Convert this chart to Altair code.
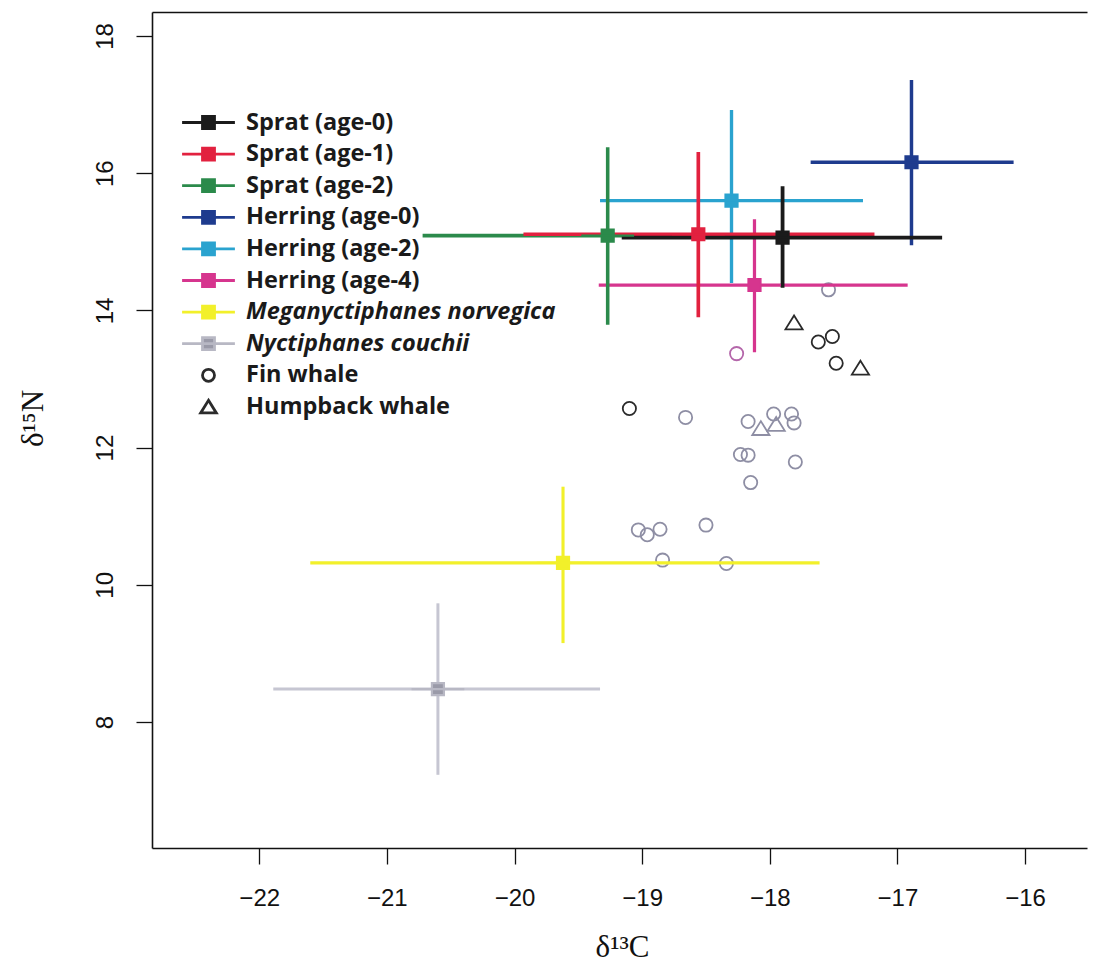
import altair as alt
import pandas as pd

# ---------------- data ----------------
groups = [
    "Sprat (age-0)", "Sprat (age-1)", "Sprat (age-2)",
    "Herring (age-0)", "Herring (age-2)", "Herring (age-4)",
    "Meganyctiphanes norvegica", "Nyctiphanes couchii",
    "Fin whale", "Humpback whale",
]
prey_groups = groups[:8]

prey_c13_mean = [-17.90, -18.56, -19.27, -16.89, -18.30, -18.12, -19.62, -20.60]
prey_c13_lo = [-19.16, -19.93, -20.72, -17.68, -19.33, -19.34, -21.60, -21.89]
prey_c13_hi = [-16.65, -17.18, -17.83, -16.09, -17.27, -16.92, -17.61, -19.33]
prey_n15_mean = [15.06, 15.11, 15.09, 16.16, 15.60, 14.37, 10.32, 8.48]
prey_n15_lo = [14.33, 13.90, 13.79, 14.95, 14.40, 13.39, 9.15, 7.23]
prey_n15_hi = [15.81, 16.31, 16.38, 17.36, 16.92, 15.33, 11.43, 9.73]

# drawing order of the error crosses (first drawn = bottom)
draw_order = [
    "Nyctiphanes couchii", "Meganyctiphanes norvegica", "Herring (age-0)",
    "Herring (age-2)", "Herring (age-4)", "Sprat (age-2)", "Sprat (age-1)",
    "Sprat (age-0)",
]

whale_species = ["Fin whale"] * 21 + ["Humpback whale"] * 4
whale_c13 = [-18.26, -17.62, -17.51, -17.48, -19.10, -18.66, -18.17, -17.97,
             -17.83, -17.81, -18.23, -18.17, -17.80, -18.15, -19.03, -18.96,
             -18.86, -18.50, -18.84, -18.34, -17.54,
             -17.81, -17.29, -18.07, -17.95]
whale_n15 = [13.37, 13.54, 13.62, 13.23, 12.57, 12.44, 12.38, 12.49,
             12.49, 12.36, 11.90, 11.89, 11.79, 11.49, 10.80, 10.73,
             10.81, 10.87, 10.36, 10.31, 14.30,
             13.82, 13.16, 12.28, 12.34]
whale_tone = ["purple", "dark", "dark", "dark", "dark", "grey", "grey", "grey",
              "grey", "grey", "grey", "grey", "grey", "grey", "grey", "grey",
              "grey", "grey", "grey", "grey", "grey",
              "dark", "dark", "grey", "grey"]

x_ticks = [-22, -21, -20, -19, -18, -17, -16]
y_ticks = [8, 10, 12, 14, 16, 18]

# ---------------- styles ----------------
line_colors = ["#1b1b1b", "#e2213f", "#2b8a4b", "#1e3b8e", "#2aa3cf", "#d6358e", "#f2f02a", "#c6c6d2"]
line_widths = [3.8, 3, 3, 2.6, 3, 3, 4, 2.5]
group_fill = line_colors[:7] + ["#9a9aa8", "white", "white"]
group_stroke = line_colors[:7] + ["#b8b8c4", "#2b2b2b", "#2b2b2b"]
tones = ["dark", "grey", "purple"]
tone_colors = ["#2a2a2a", "#8e8ea4", "#b466aa"]

SQ = "M-2.2,0H2.2M-0.5,-0.5H0.5V0.5H-0.5Z"
CIRCLE = "M0.5,0A0.5,0.5,0,1,1,-0.5,0A0.5,0.5,0,1,1,0.5,0Z"
TRIANGLE = "M0,-0.55L0.65,0.5L-0.65,0.5Z"
group_shapes = [SQ] * 8 + [CIRCLE, TRIANGLE]

# ---------------- tables ----------------
prey_df = pd.DataFrame({
    "group": prey_groups, "c13": prey_c13_mean, "n15": prey_n15_mean,
    "c13_lo": prey_c13_lo, "c13_hi": prey_c13_hi,
    "n15_lo": prey_n15_lo, "n15_hi": prey_n15_hi,
})
rows = []
for g in draw_order:
    r = prey_df[prey_df.group == g].iloc[0]
    rows.append({"group": g, "x0": r.c13_lo, "x1": r.c13_hi, "y0": r.n15, "y1": r.n15})
    rows.append({"group": g, "x0": r.c13, "x1": r.c13, "y0": r.n15_lo, "y1": r.n15_hi})
rules_df = pd.DataFrame(rows)
center_df = prey_df.set_index("group").loc[draw_order].reset_index()

whale_df = pd.DataFrame({"species": whale_species, "c13": whale_c13,
                         "n15": whale_n15, "tone": whale_tone})

# ---------------- scales / axes ----------------
x_scale = alt.Scale(domain=[-22.84, -15.515], nice=False, zero=False)
y_scale = alt.Scale(domain=[6.163, 18.35], nice=False, zero=False)

x_axis = alt.Axis(values=x_ticks, format="d", title="δ¹³C", tickSize=16,
                  labelPadding=22, labelOverlap=False, labelFlush=False,
                  titleX=470, titleY=99, titleAlign="center", titleBaseline="middle")
x_axis_top = alt.Axis(orient="top", labels=False, ticks=False, title=None, domain=True)
y_axis = alt.Axis(values=y_ticks, format="d", title="δ¹⁵N", tickSize=16,
                  labelAngle=270, labelAlign="center", labelBaseline="middle",
                  labelPadding=31, labelOverlap=False, labelFlush=False,
                  titleAngle=270, titleX=-119, titleY=406,
                  titleAlign="center", titleBaseline="middle")

leg = alt.Legend(
    title=None, orient="none", legendX=43, legendY=97, padding=0,
    labelFont="Open Sans", labelFontSize=23.5, labelFontWeight="bold", labelColor="#1a1a1a",
    labelFontStyle={"expr": "indexof(['Meganyctiphanes norvegica','Nyctiphanes couchii'], datum.label) >= 0 ? 'italic' : 'normal'"},
    labelLimit=500, labelOffset=24, symbolSize=576, symbolStrokeWidth=2.8,
    rowPadding=5.6, symbolOpacity=1,
)

rules = alt.Chart(rules_df).mark_rule(opacity=1, strokeCap="butt").encode(
    x=alt.X("x0:Q", scale=x_scale, axis=x_axis),
    x2="x1:Q",
    y=alt.Y("y0:Q", scale=y_scale, axis=y_axis),
    y2="y1:Q",
    color=alt.Color("group:N", scale=alt.Scale(domain=prey_groups, range=line_colors), legend=None),
    strokeWidth=alt.StrokeWidth("group:N", scale=alt.Scale(domain=prey_groups, range=line_widths), legend=None),
)

whales = alt.Chart(whale_df).mark_point(filled=False, size=700, strokeWidth=1.8, opacity=1).encode(
    x=alt.X("c13:Q", scale=x_scale, axis=x_axis_top),
    y=alt.Y("n15:Q", scale=y_scale, axis=y_axis),
    shape=alt.Shape("species:N", scale=alt.Scale(domain=["Fin whale", "Humpback whale"], range=[CIRCLE, TRIANGLE]), legend=None),
    stroke=alt.Stroke("tone:N", scale=alt.Scale(domain=tones, range=tone_colors), legend=None),
)

centers = alt.Chart(center_df).mark_point(filled=True, size=576, strokeWidth=2.2, opacity=1).encode(
    x=alt.X("c13:Q", scale=x_scale, axis=None),
    y=alt.Y("n15:Q", scale=y_scale, axis=y_axis),
    fill=alt.Fill("group:N", scale=alt.Scale(domain=groups, range=group_fill), legend=leg),
    stroke=alt.Stroke("group:N", scale=alt.Scale(domain=groups, range=group_stroke), legend=leg),
    shape=alt.Shape("group:N", scale=alt.Scale(domain=groups, range=group_shapes), legend=leg),
)

chart = (
    alt.layer(whales, rules, centers)
    .resolve_scale(color="independent", fill="independent", stroke="independent",
                   shape="independent", strokeWidth="independent")
    .resolve_axis(x="independent")
    .properties(width=935, height=836,
                padding={"left": 144, "top": 4, "right": 5, "bottom": 120},
                autosize=alt.AutoSizeParams(type="none"),
                background="white")
    .configure_view(stroke=None)
    .configure_axis(domainColor="#111", domainWidth=1.6, tickColor="#111", tickWidth=1.3,
                    labelFont="Liberation Sans", labelFontSize=24, labelColor="#111",
                    titleFont="Liberation Serif, DejaVu Serif", titleFontSize=31,
                    titleFontWeight="normal", titleColor="#111", grid=False)
)

chart.save("out.html", embed_options={"renderer": "svg", "actions": False})
